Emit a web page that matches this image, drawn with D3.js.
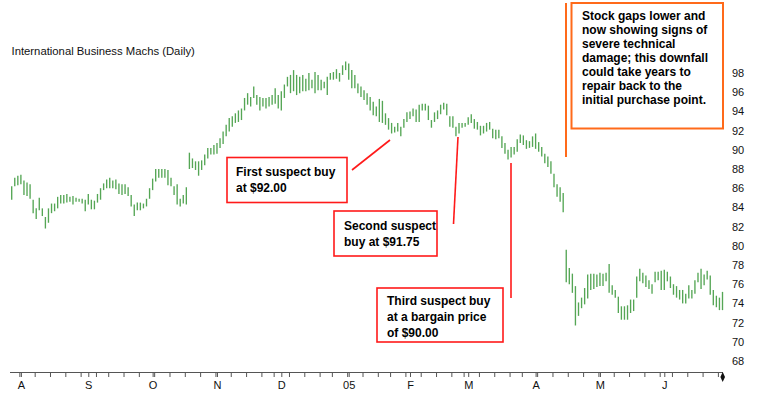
<!DOCTYPE html>
<html>
<head>
<meta charset="utf-8">
<script src="https://cdn.jsdelivr.net/npm/d3@7"></script>
<style>
  body { margin: 0; background: #fff; }
  svg { display: block; }
  text { font-family: Arial, "Liberation Sans", sans-serif; }
</style>
</head>
<body>
<svg id="chart" width="761" height="399"></svg>
<script>
// daily highs / lows, late Jul 2004 .. end Jun 2005 (one entry per trading day)
var high = [
  86.2, 87.1, 87.3, 87.4, 86.8, 86.6, 86.4, 84.8, 83.9, 85.0, 83.9, 83.0, 83.9, 84.4, 84.4, 85.1,
  85.3, 85.3, 85.4, 85.1, 85.2, 85.0, 84.9, 84.9, 84.8, 85.4, 84.8, 84.7, 85.4, 86.0, 86.5, 86.9,
  87.1, 86.8, 86.9, 86.5, 86.4, 86.4, 86.1, 85.3, 84.3, 84.5, 84.5, 84.4, 84.9, 86.0, 87.0, 88.0,
  88.0, 88.0, 88.0, 87.9, 87.1, 86.2, 86.4, 84.9, 85.3, 86.1, 89.7, 89.1, 88.8, 88.8, 88.9, 89.5,
  90.2, 90.2, 90.5, 90.7, 91.2, 91.9, 92.6, 93.3, 93.5, 93.8, 94.1, 94.3, 95.4, 95.9, 95.5, 96.6,
  95.7, 95.5, 95.4, 95.4, 95.5, 95.7, 96.4, 95.7, 96.1, 96.8, 97.6, 97.8, 98.3, 97.8, 97.6, 97.8,
  97.4, 98.0, 97.3, 98.1, 97.8, 97.3, 97.1, 97.6, 98.0, 98.1, 98.4, 98.0, 98.8, 99.2, 99.0, 98.3,
  97.8, 96.9, 96.6, 96.2, 95.9, 95.5, 95.0, 94.5, 95.3, 95.1, 93.8, 93.3, 92.8, 92.4, 92.8, 92.4,
  93.2, 93.9, 94.0, 94.3, 94.2, 94.7, 94.8, 94.8, 94.6, 93.1, 93.9, 94.1, 94.7, 94.9, 94.8, 93.5,
  93.5, 92.4, 92.8, 92.8, 92.8, 93.4, 93.7, 93.2, 92.9, 92.5, 92.5, 92.8, 92.9, 92.2, 92.1, 92.1,
  91.4, 90.7, 90.0, 90.3, 90.3, 91.1, 91.6, 91.5, 91.0, 90.9, 91.4, 91.7, 90.8, 90.3, 89.6, 89.3,
  88.8, 87.5, 86.4, 86.1, 85.5,
  79.6, 77.7, 77.1, 75.8, 74.1, 74.6, 75.6, 77.0, 77.1, 77.1, 77.0, 77.2, 77.1, 77.2, 78.1, 75.9,
  75.4, 74.7, 73.7, 73.7, 73.8, 74.4, 74.4, 76.8, 77.6, 77.2, 76.9, 76.4, 76.0, 77.3, 77.3, 77.4,
  77.5, 77.3, 76.8, 76.0, 75.8, 75.4, 75.4, 75.0, 75.9, 75.4, 76.4, 77.2, 77.6, 77.0, 77.4, 76.9,
  75.4, 74.8, 74.6, 75.2
];
var low = [
  84.8, 86.2, 86.3, 86.4, 85.3, 85.2, 84.9, 83.4, 82.8, 83.7, 83.1, 81.8, 82.4, 83.4, 83.6, 83.9,
  84.4, 84.4, 84.5, 84.6, 84.3, 84.6, 84.6, 84.4, 83.6, 84.3, 83.8, 83.8, 84.5, 84.8, 85.8, 86.0,
  86.0, 86.0, 85.9, 85.4, 85.3, 85.4, 85.2, 84.1, 83.1, 83.7, 83.7, 83.9, 84.1, 84.9, 85.8, 86.7,
  87.1, 87.1, 87.1, 86.3, 86.2, 85.3, 84.3, 84.1, 84.4, 84.3, 88.0, 88.1, 87.9, 87.3, 87.9, 88.4,
  89.1, 89.5, 89.5, 89.6, 90.2, 90.6, 91.4, 91.9, 92.4, 92.8, 92.9, 93.1, 94.1, 94.7, 94.5, 95.4,
  94.7, 94.1, 94.5, 94.3, 94.5, 94.7, 94.8, 94.3, 94.1, 95.4, 96.6, 95.9, 96.1, 95.7, 95.9, 96.1,
  96.1, 96.2, 96.4, 95.9, 96.2, 96.2, 96.4, 95.7, 97.3, 97.3, 97.4, 97.1, 97.8, 98.3, 97.3, 96.4,
  96.4, 95.9, 95.5, 95.2, 94.7, 94.1, 93.6, 93.5, 92.9, 92.8, 92.6, 92.1, 91.7, 91.8, 91.9, 91.4,
  92.3, 92.9, 93.2, 93.5, 92.9, 92.9, 94.1, 94.1, 93.1, 92.3, 92.9, 93.2, 93.7, 94.2, 93.6, 92.4,
  92.3, 91.4, 91.7, 92.3, 92.4, 92.6, 92.8, 92.2, 92.1, 91.5, 91.7, 91.9, 92.1, 91.2, 91.1, 91.2,
  90.2, 89.6, 89.0, 89.2, 89.5, 89.8, 90.7, 90.5, 90.1, 90.2, 90.3, 90.1, 89.8, 89.3, 88.6, 88.2,
  87.5, 86.1, 85.1, 84.6, 83.5,
  76.2, 76.0, 75.1, 71.7, 72.7, 73.5, 73.9, 74.5, 75.4, 75.5, 75.7, 75.8, 75.8, 76.3, 75.1, 74.9,
  74.6, 73.0, 72.3, 72.3, 72.3, 73.0, 73.2, 74.6, 76.3, 76.1, 75.7, 75.5, 75.0, 76.2, 76.4, 75.4,
  75.4, 76.3, 75.6, 74.9, 74.6, 74.4, 74.0, 74.0, 74.5, 74.5, 75.0, 76.2, 75.5, 75.9, 76.5, 74.9,
  73.8, 73.6, 73.3, 73.3
];

// bar index of the first trading day of each month, and of each week
var monthStarts = [3, 25, 46, 67, 88, 110, 130, 149, 171, 192, 213];
var monthLabels = ["A", "S", "O", "N", "D", "05", "F", "M", "A", "M", "J"];
var weekStarts = [3, 8, 13, 18, 23, 28, 32, 37, 42, 47, 52, 57, 62, 67, 72, 77, 82, 86, 91, 96,
  101, 105, 110, 115, 120, 124, 129, 134, 139, 144, 148, 153, 158, 163, 167, 172, 177, 182, 187,
  192, 197, 202, 207, 212, 216, 221, 226, 231];
var priceTicks = [68, 70, 72, 74, 76, 78, 80, 82, 84, 86, 88, 90, 92, 94, 96, 98];

var title = "International Business Machs (Daily)";
var buyNotes = [
  ["First suspect buy", "at $92.00"],
  ["Second suspect", "buy at $91.75"],
  ["Third suspect buy", "at a bargain price", "of $90.00"]
];
var gapNote = ["Stock gaps lower and", "now showing signs of", "severe technical",
  "damage; this downfall", "could take years to", "repair back to the", "initial purchase point."];

var svg = d3.select("#chart");

var x = d3.scaleLinear().domain([0, high.length - 1]).range([11.7, 722.5]);
var y = d3.scaleLinear().domain([68, 98]).range([361, 73]);

// title
svg.append("text")
  .attr("x", 11.5).attr("y", 55)
  .attr("font-size", "11.3px").attr("fill", "#111")
  .text(title);

// price bars
svg.append("g").selectAll("line")
  .data(high)
  .enter().append("line")
  .attr("x1", function (d, i) { return x(i); })
  .attr("x2", function (d, i) { return x(i); })
  .attr("y1", function (d) { return y(d); })
  .attr("y2", function (d, i) { return y(low[i]); })
  .attr("stroke", "#55a655")
  .attr("stroke-width", 1.35);

// right price axis (labels only)
var yAxis = d3.axisRight(y).tickValues(priceTicks).tickSize(0).tickPadding(0);
var yg = svg.append("g").attr("transform", "translate(732,0)").call(yAxis);
yg.select(".domain").remove();
yg.selectAll("text").attr("font-size", "11px").attr("fill", "#111")
  .attr("font-family", "Arial, 'Liberation Sans', sans-serif");

// time axis
var axisY = 372.5;
svg.append("line")
  .attr("x1", 10).attr("x2", 723).attr("y1", axisY).attr("y2", axisY)
  .attr("stroke", "#555").attr("stroke-width", 1);

var weekAxis = d3.axisBottom(x)
  .tickValues(weekStarts.map(function (d) { return d - 0.5; }))
  .tickSize(4.5).tickSizeOuter(0).tickFormat("");
var wg = svg.append("g").attr("transform", "translate(0," + axisY + ")").call(weekAxis);
wg.select(".domain").remove();
wg.selectAll("line").attr("stroke", "#555");

var monthAxis = d3.axisBottom(x)
  .tickValues(monthStarts)
  .tickSize(4.5).tickSizeOuter(0).tickPadding(4)
  .tickFormat(function (d, i) { return monthLabels[i]; });
var mg = svg.append("g").attr("transform", "translate(0," + axisY + ")").call(monthAxis);
mg.select(".domain").remove();
mg.selectAll("line").attr("stroke", "#555");
mg.selectAll("text").attr("font-size", "11px").attr("fill", "#111")
  .attr("font-family", "Arial, 'Liberation Sans', sans-serif");

// end-of-data marker
svg.append("path")
  .attr("d", "M722.7,372 L725,377 L722.7,382 L720.4,377 Z")
  .attr("fill", "#111");

// annotations
var boxes = [
  { x: 227, y: 157.5, w: 120, h: 45, tx: 236, ty: 175.5 },
  { x: 334, y: 211, w: 103, h: 45, tx: 344, ty: 230 },
  { x: 377, y: 288, w: 126, h: 54, tx: 387, ty: 305 }
];
var pointers = [
  [[352, 170], [390, 140]],
  [[453.5, 224], [458, 137]],
  [[511, 298], [511, 163]]
];

pointers.forEach(function (p) {
  svg.append("line")
    .attr("x1", p[0][0]).attr("y1", p[0][1]).attr("x2", p[1][0]).attr("y2", p[1][1])
    .attr("stroke", "#ff1a1a").attr("stroke-width", 1.6);
});

boxes.forEach(function (b, k) {
  svg.append("rect")
    .attr("x", b.x).attr("y", b.y).attr("width", b.w).attr("height", b.h)
    .attr("fill", "#fff").attr("stroke", "#ff1a1a").attr("stroke-width", 1.6);
  svg.append("g").selectAll("text")
    .data(buyNotes[k])
    .enter().append("text")
    .attr("x", b.tx)
    .attr("y", function (d, i) { return b.ty + i * 16; })
    .attr("font-size", "12px").attr("font-weight", "bold").attr("fill", "#000")
    .text(function (d) { return d; });
});

// gap note
svg.append("line")
  .attr("x1", 566).attr("x2", 566).attr("y1", 3).attr("y2", 157)
  .attr("stroke", "#ff6a1a").attr("stroke-width", 2);
svg.append("rect")
  .attr("x", 571.5).attr("y", 3).attr("width", 151.5).attr("height", 125.5)
  .attr("fill", "#fff").attr("stroke", "#ff6a1a").attr("stroke-width", 2);
svg.append("g").selectAll("text")
  .data(gapNote)
  .enter().append("text")
  .attr("x", 582)
  .attr("y", function (d, i) { return 19.5 + i * 14; })
  .attr("font-size", "12px").attr("font-weight", "bold").attr("fill", "#000")
  .text(function (d) { return d; });
</script>
</body>
</html>
